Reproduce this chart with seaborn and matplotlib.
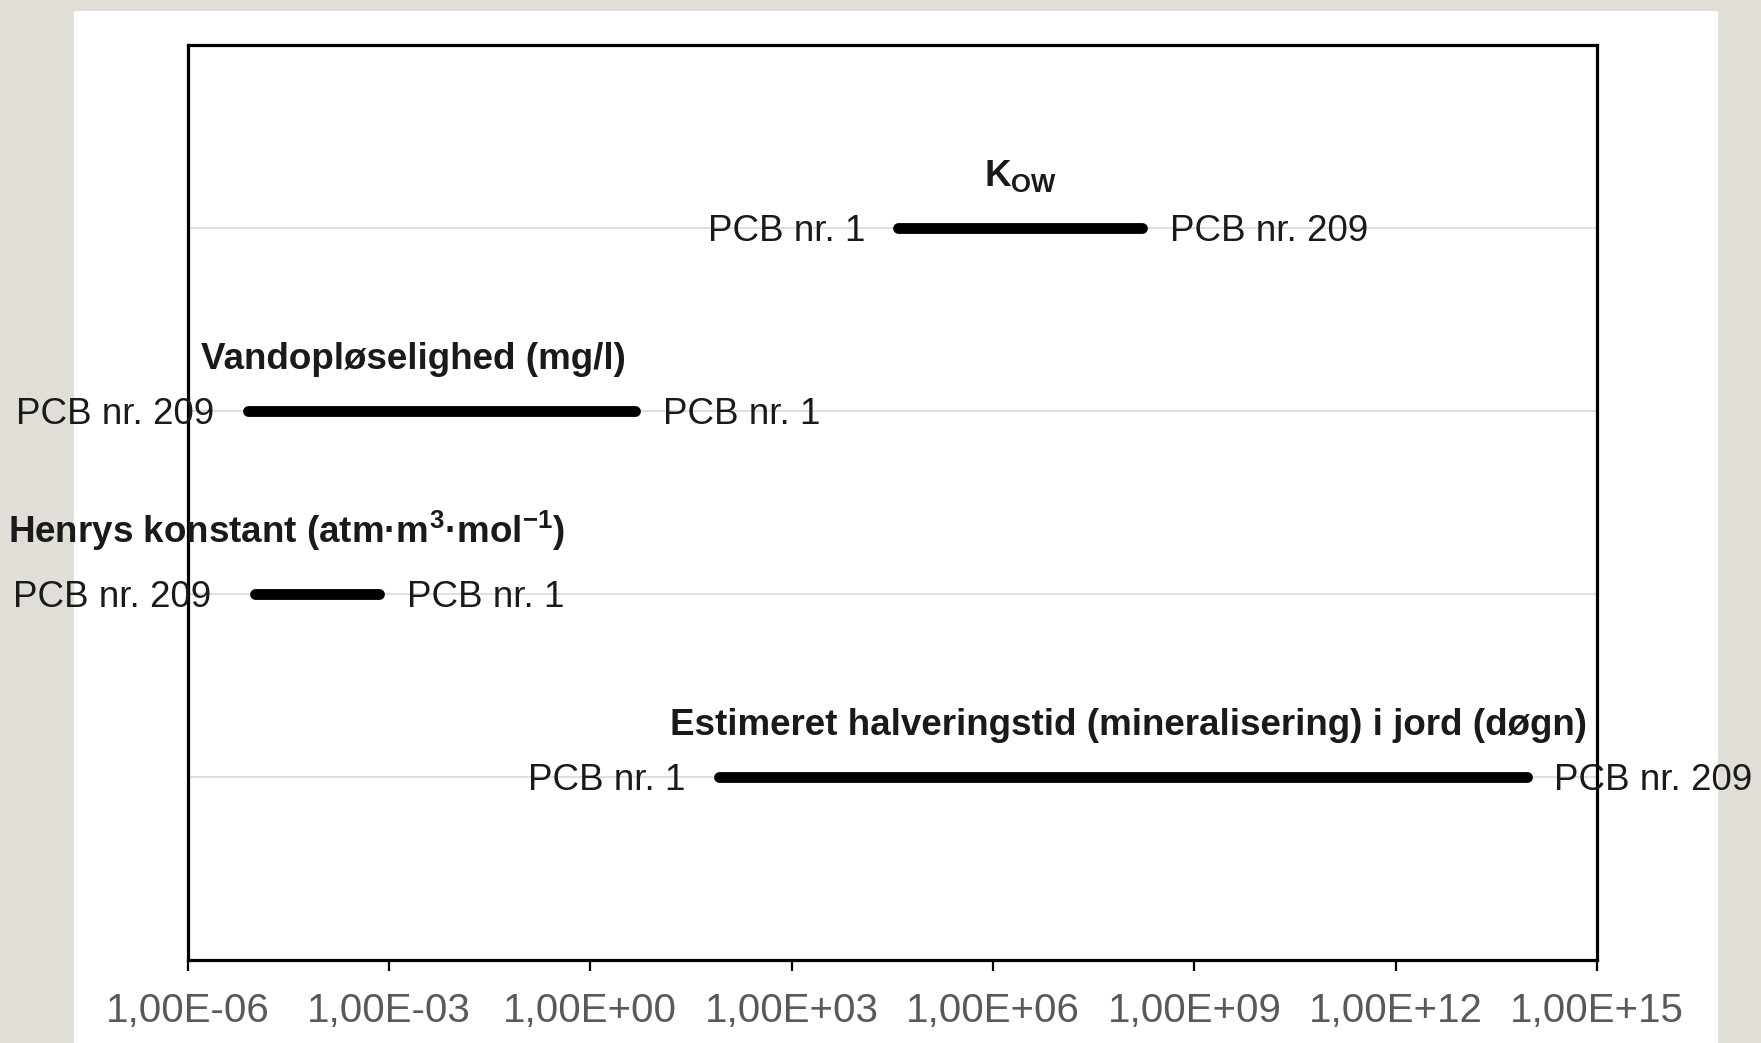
import numpy as np
import pandas as pd
import matplotlib
matplotlib.use("Agg")
import matplotlib.pyplot as plt
import seaborn as sns
from matplotlib.patches import Rectangle
from matplotlib.ticker import FixedLocator, FuncFormatter, NullLocator


# data
titles = [
    r"K$_{\mathbf{OW}}$",
    "Vandopløselighed (mg/l)",
    r"Henrys konstant (atm·m$^{\mathbf{3}}$·mol$^{\mathbf{-1}}$)",
    "Estimeret halveringstid (mineralisering) i jord (døgn)",
]
pcb1_values = [3.9e4, 4.6, 7.2e-4, 82]
pcb209_values = [1.66e8, 7.9e-6, 1.0e-5, 8.9e13]
pcb1_label = "PCB nr. 1"
pcb209_label = "PCB nr. 209"
tick_values = [1e-6, 1e-3, 1e0, 1e3, 1e6, 1e9, 1e12, 1e15]
rows = [1, 2, 3, 4]

df = pd.DataFrame({
    "egenskab": np.repeat(titles, 2),
    "vaerdi": np.ravel(np.column_stack([pcb1_values, pcb209_values])),
    "raekke": np.repeat(rows, 2),
})

sns.set_theme(style="white")
plt.rcParams["font.family"] = ["Liberation Sans", "DejaVu Sans"]
plt.rcParams["mathtext.fontset"] = "custom"
plt.rcParams["mathtext.rm"] = "Liberation Sans"
plt.rcParams["mathtext.bf"] = "Liberation Sans:bold"

fig = plt.figure(figsize=(17.61, 10.43), dpi=100)
fig.patch.set_facecolor("#E1DDD7")
fig.add_artist(Rectangle((74 / 1761, 0), (1718 - 74) / 1761, 1 - 11 / 1043,
                         transform=fig.transFigure, facecolor="white",
                         edgecolor="none", zorder=-1))
ax = fig.add_axes([0.1065, 0.0796, 0.8005, 0.8774])
ax.set_facecolor("white")

sns.lineplot(data=df, x="vaerdi", y="raekke", units="egenskab", estimator=None,
             color="black", linewidth=7.8, solid_capstyle="round",
             legend=False, ax=ax, zorder=3)

ax.set_xscale("log")
ax.set_xlim(1e-6, 1e15)
ax.set_ylim(5, 0)
ax.xaxis.set_major_locator(FixedLocator(tick_values))
ax.xaxis.set_minor_locator(NullLocator())
ax.xaxis.set_major_formatter(FuncFormatter(lambda v, p: f"{v:.2E}".replace(".", ",")))
ax.set_yticks(rows)
ax.set_yticklabels([])
ax.tick_params(axis="y", length=0, left=False)
ax.tick_params(axis="x", bottom=True, direction="out", length=8, width=1.6,
               color="black", pad=15, labelsize=29, labelcolor="#595959")
ax.yaxis.grid(True, color="#D9D9D9", linewidth=1.2)
ax.xaxis.grid(False)
for s in ax.spines.values():
    s.set_visible(True)
    s.set_color("black")
    s.set_linewidth(2.3)
ax.set_xlabel("")
ax.set_ylabel("")

left_pad = [-24, -24, -31, -24]
title_shift = [0, -20, -22, 4]
title_rise = [30, 30, 37, 30]
for i, t in enumerate(titles):
    lo, hi = sorted([pcb1_values[i], pcb209_values[i]])
    lo_lab = pcb1_label if pcb1_values[i] < pcb209_values[i] else pcb209_label
    hi_lab = pcb209_label if lo_lab == pcb1_label else pcb1_label
    y = rows[i]
    ax.annotate(lo_lab, (lo, y), xytext=(left_pad[i], 0), textcoords="offset points",
                ha="right", va="center_baseline", fontsize=26.5, color="#1a1a1a")
    ax.annotate(hi_lab, (hi, y), xytext=(20, 0), textcoords="offset points",
                ha="left", va="center_baseline", fontsize=26.5, color="#1a1a1a")
    ax.annotate(t, (np.sqrt(lo * hi), y), xytext=(title_shift[i], title_rise[i]),
                textcoords="offset points", ha="center", va="baseline",
                fontsize=26.5, fontweight="bold", color="#1a1a1a")

fig.savefig("out.png", dpi=100, facecolor=fig.get_facecolor())
